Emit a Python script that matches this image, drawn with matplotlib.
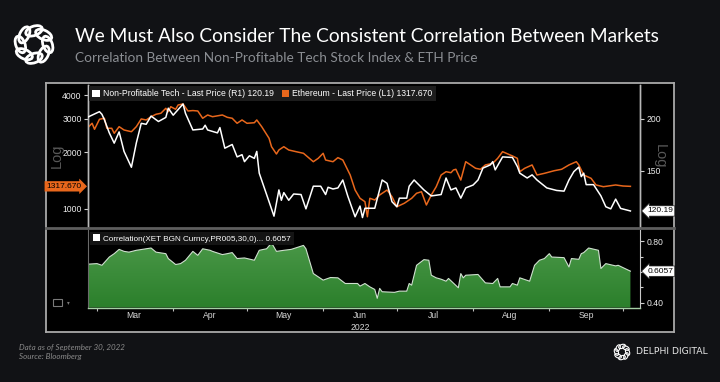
import numpy as np
import pandas as pd
import matplotlib
matplotlib.use("Agg")
import matplotlib.pyplot as plt
import matplotlib.dates as mdates
import matplotlib.ticker as mticker
import matplotlib.transforms as mtrans
from matplotlib.patches import Rectangle, Ellipse, Patch
from matplotlib.lines import Line2D
from matplotlib.colors import LinearSegmentedColormap

plt.rcParams['font.family'] = ['Liberation Sans', 'DejaVu Sans']

# ---------------- data ----------------
title = "We Must Also Consider The Consistent Correlation Between Markets"
subtitle = "Correlation Between Non-Profitable Tech Stock Index & ETH Price"
footer1 = "Data as of September 30, 2022"
footer2 = "Source: Bloomberg"
brand = "DELPHI DIGITAL"

tech_label = "Non-Profitable Tech - Last Price (R1) 120.19"
eth_label = "Ethereum - Last Price (L1) 1317.670"
corr_label = "Correlation(XET BGN Curncy,PR005,30,0)... 0.6057"

tech_dates = ["02-25","03-02","03-03","03-04","03-06","03-08","03-10","03-12","03-15","03-17",
              "03-19","03-21","03-23","03-26","03-29","03-30","04-01","04-05","04-06","04-09",
              "04-13","04-14","04-15","04-19","04-20","04-22","04-25","04-27","04-29","04-30",
              "05-02","05-04","05-05","05-06","05-10","05-12","05-14","05-15","05-16","05-18",
              "05-20","05-23","05-25","05-28","05-31","06-02","06-03","06-05","06-07","06-09",
              "06-11","06-14","06-16","06-17","06-18","06-22","06-25","06-27","06-29","07-01",
              "07-02","07-05","07-06","07-08","07-12","07-15","07-19","07-21","07-23","07-25",
              "07-27","07-29","08-01","08-03","08-05","08-08","08-09","08-10","08-13","08-17",
              "08-19","08-20","08-23","08-25","08-27","08-31","09-04","09-07","09-09","09-11",
              "09-13","09-14","09-15","09-16","09-19","09-22","09-24","09-26","09-28","09-30",
              "10-04"]
tech_vals = [201.5,208,205,199,185,174.8,186,167,153,175,
             195,194,203,197,201.5,212,204,217,206,188,
             189,193,188,185,190.5,170,173.5,162,164,157.8,
             163,160.7,167,148.1,126.5,116.8,135,127.5,133,127.5,
             132,131.6,121.6,137.8,137.8,131.6,137,135.7,136.5,142.6,
             130.6,116.4,123.5,115.9,122,122,142.6,140,126.5,123,
             129,129,137.8,142.6,135,130.6,131.6,144.2,135,136.5,
             129,136.5,138.7,142.6,152.3,155,157.8,150.8,162,161.5,
             153.6,148.1,144.2,146.7,142.6,136.5,134.6,134.1,142.6,149.4,
             153.1,145.3,148.1,139,139,130.6,123,121.6,128.3,121.9,
             120.19]

eth_dates = ["02-25","02-27","02-28","03-02","03-04","03-05","03-07","03-08","03-10","03-12",
             "03-15","03-17","03-19","03-21","03-23","03-25","03-27","03-29","03-30","03-31",
             "04-02","04-03","04-05","04-07","04-09","04-11","04-13","04-15","04-17","04-21",
             "04-23","04-25","04-27","04-29","05-01","05-04","05-05","05-07","05-10","05-11",
             "05-13","05-14","05-16","05-18","05-21","05-24","05-28","05-30","06-01","06-02",
             "06-05","06-07","06-09","06-12","06-14","06-16","06-18","06-19","06-20","06-22",
             "06-24","06-27","06-29","07-01","07-04","07-07","07-09","07-11","07-13","07-15",
             "07-17","07-19","07-21","07-23","07-24","07-25","07-27","07-29","07-31","08-02",
             "08-04","08-06","08-09","08-11","08-13","08-17","08-19","08-20","08-22","08-25",
             "08-27","08-30","09-03","09-06","09-09","09-12","09-13","09-15","09-18","09-20",
             "09-23","09-25","09-28","10-01","10-04"]
eth_vals = [2673,2841,2641,2983,3020,2673,2673,2515,2726,2618,
            2564,2726,2995,2958,3078,3170,3210,3410,3272,3477,
            3370,3550,3595,3300,3317,3300,3020,3143,3078,3143,
            3055,3020,2841,2958,2841,2860,2958,2726,2366,2136,
            1954,2052,2136,2052,2010,1971,1779,1854,1971,1816,
            1779,1869,1816,1513,1260,1139,1093,910,1139,1116,
            1186,1260,1162,1028,1072,1139,1211,1234,1050,1186,
            1312,1513,1575,1556,1608,1622,1423,1779,1710,1642,
            1622,1710,1745,1854,2010,1908,1854,1575,1642,1710,
            1513,1544,1594,1622,1710,1779,1710,1513,1453,1340,
            1312,1323,1340,1323,1317.67]

corr_dates = ["02-25","03-01","03-03","03-06","03-08","03-10","03-12","03-14","03-17","03-23",
              "03-25","03-29","03-30","04-02","04-04","04-06","04-09","04-11","04-13","04-16",
              "04-17","04-21","04-23","04-25","04-27","04-30","05-04","05-06","05-09","05-11",
              "05-12","05-13","05-16","05-19","05-24","05-25","05-28","06-01","06-04","06-07",
              "06-10","06-15","06-16","06-18","06-20","06-22","06-23","06-24","06-25","06-30",
              "07-02","07-05","07-06","07-07","07-09","07-12","07-14","07-15","07-17","07-19",
              "07-21","07-22","07-26","07-27","07-28","07-29","08-03","08-06","08-09","08-11",
              "08-12","08-16","08-17","08-19","08-20","08-24","08-26","08-28","08-30","09-01",
              "09-02","09-07","09-09","09-10","09-13","09-14","09-15","09-17","09-21","09-22",
              "09-24","09-28","09-29","10-04"]
corr_vals = [0.651,0.655,0.644,0.698,0.72,0.748,0.735,0.73,0.742,0.757,
             0.73,0.72,0.688,0.649,0.655,0.677,0.735,0.709,0.752,0.742,
             0.735,0.714,0.72,0.727,0.688,0.692,0.677,0.742,0.752,0.79,
             0.763,0.735,0.742,0.748,0.774,0.752,0.59,0.547,0.564,0.562,
             0.525,0.525,0.508,0.525,0.503,0.486,0.428,0.493,0.471,0.467,
             0.475,0.475,0.525,0.514,0.644,0.681,0.677,0.579,0.562,0.553,
             0.54,0.558,0.497,0.59,0.562,0.579,0.584,0.529,0.525,0.558,
             0.503,0.503,0.525,0.514,0.562,0.54,0.644,0.677,0.688,0.72,
             0.698,0.694,0.633,0.688,0.683,0.72,0.727,0.757,0.742,0.623,
             0.655,0.64,0.644,0.6057]

eth_ticks = [1000, 2000, 3000, 4000]
tech_ticks = [150, 200]
corr_ticks = [0.40, 0.80]
eth_last, tech_last, corr_last = 1317.670, 120.19, 0.6057

def to_dt(lst):
    return pd.to_datetime(["2022-" + s for s in lst])

tech_d, eth_d, corr_d = to_dt(tech_dates), to_dt(eth_dates), to_dt(corr_dates)

# ---------------- styling ----------------
W, H = 720, 382
BG = '#111215'
ORANGE = '#e8671c'
fig = plt.figure(figsize=(W / 100, H / 100), dpi=100, facecolor=BG)

def fx(px):
    return px / W

def fy(py):
    return 1 - py / H

# chart panel
panel = fig.add_axes([fx(46), fy(332), fx(674 - 46), (332 - 83) / H])
panel.set_facecolor('black')
panel.set_xticks([]); panel.set_yticks([])
for s in panel.spines.values():
    s.set_color('#a9a9a9'); s.set_linewidth(1.3)

x0 = mdates.date2num(pd.Timestamp('2022-03-01')) - 3.66
x1 = mdates.date2num(pd.Timestamp('2022-03-01')) + 220.9

# ---- upper axes
ax = fig.add_axes([fx(88), fy(227), fx(640 - 88), (227 - 85) / H])
ax.set_facecolor('black')
ax.set_yscale('log')
ax.set_ylim(803, 4529)
ax.set_xlim(x0, x1)
ax.yaxis.set_major_locator(mticker.FixedLocator(eth_ticks))
ax.yaxis.set_major_formatter(mticker.FixedFormatter([str(t) for t in eth_ticks]))
ax.yaxis.set_minor_locator(mticker.NullLocator())
ax.tick_params(axis='y', direction='out', length=3, width=0.8, color='#d0d0d0',
               labelcolor='#ececec', labelsize=6.2, pad=1.5)
ax.tick_params(axis='x', bottom=False, labelbottom=False)
ax.plot(eth_d, eth_vals, color=ORANGE, lw=1.1, zorder=3)

ax2 = ax.twinx()
ax2.set_yscale('log')
ax2.set_ylim(110, 241)
ax2.set_xlim(x0, x1)
ax2.yaxis.set_major_locator(mticker.FixedLocator(tech_ticks))
ax2.yaxis.set_major_formatter(mticker.FixedFormatter([str(t) for t in tech_ticks]))
ax2.yaxis.set_minor_locator(mticker.NullLocator())
ax2.tick_params(axis='y', direction='out', length=3, width=0.8, color='#d0d0d0',
                labelcolor='#ececec', labelsize=6.2, pad=1.5)
ax2.plot(tech_d, tech_vals, color='white', lw=1.1, zorder=3)

for a in (ax, ax2):
    a.spines['top'].set_visible(False)
    a.spines['bottom'].set_visible(False)
    a.spines['left'].set_color('#b8b8b8')
    a.spines['right'].set_color('#b8b8b8')
    a.spines['left'].set_linewidth(1.0)
    a.spines['right'].set_linewidth(1.0)

leg = ax2.legend(handles=[Patch(facecolor='white', edgecolor='none'),
                          Patch(facecolor=ORANGE, edgecolor='none')],
                 labels=[tech_label, eth_label], ncol=2, loc='upper left',
                 bbox_to_anchor=(0.0, 1.0), borderaxespad=0.15, frameon=True,
                 facecolor='#1c1c1c', edgecolor='none', framealpha=1, fancybox=False,
                 fontsize=6.2, labelcolor='white', handlelength=0.85, handleheight=0.85,
                 handletextpad=0.4, columnspacing=0.9, borderpad=0.35)
leg.set_zorder(20)

# value flags
ax.text(-0.012, eth_last, f"{eth_last:.3f}", transform=ax.get_yaxis_transform(),
        ha='right', va='center', fontsize=6, color='black', clip_on=False, zorder=30,
        bbox=dict(boxstyle='rarrow,pad=0.2', fc=ORANGE, ec='none'))
ax2.text(1.013, tech_last, f"{tech_last:.2f}", transform=ax2.get_yaxis_transform(),
         ha='left', va='center', fontsize=6, color='black', clip_on=False, zorder=30,
         bbox=dict(boxstyle='larrow,pad=0.2', fc='white', ec='#222222', lw=0.5))

# separator line
fig.add_artist(Line2D([fx(46), fx(674)], [fy(228), fy(228)], color='#5e5e5e', lw=2.0))

# ---- lower axes
ax3 = fig.add_axes([fx(88), fy(307.5), fx(640 - 88), (307.5 - 229.5) / H])
ax3.set_facecolor('black')
ymin3, ymax3 = 0.368, 0.878
ax3.set_ylim(ymin3, ymax3)
poly = ax3.fill_between(corr_d, corr_vals, ymin3, facecolor='none', edgecolor='none')
cmap = LinearSegmentedColormap.from_list('g', ['#2b7f2b', '#4a9848'])
grad = np.linspace(0, 1, 256).reshape(-1, 1)
im = ax3.imshow(grad, aspect='auto', cmap=cmap, origin='lower',
                extent=[x0, x1, ymin3, 0.80], zorder=1)
im.set_clip_path(poly.get_paths()[0], transform=ax3.transData)
ax3.plot(corr_d, corr_vals, color='#cfe0cf', lw=0.8, zorder=2)
ax3.set_xlim(x0, x1)
ax3.set_ylim(ymin3, ymax3)

ax3.yaxis.tick_right()
ax3.yaxis.set_major_locator(mticker.FixedLocator(corr_ticks))
ax3.yaxis.set_major_formatter(mticker.FixedFormatter([f"{t:.2f}" for t in corr_ticks]))
ax3.yaxis.set_minor_locator(mticker.FixedLocator([0.5, 0.6, 0.7]))
ax3.tick_params(axis='y', which='major', direction='out', length=3, width=0.8,
                color='#d0d0d0', labelcolor='#ececec', labelsize=6.2, pad=1.5)
ax3.tick_params(axis='y', which='minor', direction='out', length=2, width=0.8, color='#d0d0d0')

ax3.xaxis.set_major_locator(mdates.MonthLocator())
ax3.xaxis.set_major_formatter(mticker.NullFormatter())
ax3.xaxis.set_minor_locator(mdates.MonthLocator(bymonthday=16))
ax3.xaxis.set_minor_formatter(mdates.DateFormatter('%b'))
ax3.tick_params(axis='x', which='major', direction='out', length=2.5, width=0.8, color='#bdbdbd')
ax3.tick_params(axis='x', which='minor', length=0, labelsize=6.2, labelcolor='#d8d8d8', pad=2.5)
ax3.text(mdates.date2num(pd.Timestamp('2022-06-16')), -0.2, '2022',
         transform=mtrans.blended_transform_factory(ax3.transData, ax3.transAxes),
         ha='center', va='top', fontsize=6.2, color='#d8d8d8')

ax3.spines['top'].set_visible(False)
ax3.spines['left'].set_color('#6a6a6a')
ax3.spines['bottom'].set_color('#a6cfa6')
ax3.spines['right'].set_color('#c8c8c8')
ax3.spines['bottom'].set_linewidth(1.0)

leg3 = ax3.legend(handles=[Patch(facecolor='white', edgecolor='none')], labels=[corr_label],
                  loc='upper left', bbox_to_anchor=(0.0, 1.0), borderaxespad=0.25,
                  frameon=True, facecolor='#141414', edgecolor='none', framealpha=1,
                  fancybox=False, fontsize=5.9, labelcolor='white', handlelength=0.85,
                  handleheight=0.85, handletextpad=0.4, borderpad=0.35)
leg3.set_zorder(20)

ax3.text(1.013, corr_last, f"{corr_last:.4f}", transform=ax3.get_yaxis_transform(),
         ha='left', va='center', fontsize=6, color='black', clip_on=False, zorder=30,
         bbox=dict(boxstyle='larrow,pad=0.2', fc='white', ec='#222222', lw=0.5))

# small icon at lower-left of panel
fig.add_artist(Rectangle((fx(53), fy(306)), 9 / W, 7 / H, transform=fig.transFigure,
                         fill=False, ec='#7a7a7a', lw=0.8))
fig.text(fx(67), fy(302.5), '\u25be', fontsize=4, color='#7a7a7a', ha='left', va='center')

# "Log" labels
fig.text(fx(57), fy(156), 'Log', rotation=90, fontsize=10.5, color='#585858',
         ha='center', va='center')
fig.text(fx(660), fy(156), 'Log', rotation=270, fontsize=10.5, color='#585858',
         ha='center', va='center')

# ---------------- header / footer ----------------
t_title = fig.text(fx(75), fy(36), title, fontsize=13, color='white', va='center',
                   ha='left', family=['Lato', 'DejaVu Sans'])
t_sub = fig.text(fx(75), fy(58), subtitle, fontsize=9, color='#8b8e93', va='center',
                 ha='left', family=['Lato', 'DejaVu Sans'])
t_f1 = fig.text(fx(19), fy(347), footer1, fontsize=5.5, color='#8a8a8a', style='italic',
                va='center', ha='left', family=['Lato', 'DejaVu Sans'])
t_f2 = fig.text(fx(19), fy(357), footer2, fontsize=5.5, color='#8a8a8a', style='italic',
                va='center', ha='left', family=['Lato', 'DejaVu Sans'])
t_br = fig.text(fx(636), fy(352), brand, fontsize=5.5, color='#e6e6e6', va='center',
                ha='left', family=['DejaVu Sans'])

renderer = fig.canvas.get_renderer()
for t, target in ((t_title, 585), (t_sub, 401), (t_f1, 105), (t_br, 72)):
    w = t.get_window_extent(renderer).width
    t.set_fontsize(t.get_fontsize() * target / w)
t_f2.set_fontsize(t_f1.get_fontsize())


def draw_logo(cx, cy, size, lw):
    la = fig.add_axes([fx(cx - size / 2), fy(cy + size / 2), size / W, size / H])
    la.set_xlim(-1, 1); la.set_ylim(-1, 1)
    la.set_aspect('equal')
    la.axis('off')
    n = 8
    for i in range(n):
        a = 2 * np.pi * i / n
        la.add_patch(Ellipse((0.62 * np.cos(a), 0.62 * np.sin(a)), width=0.78, height=0.42,
                             angle=np.degrees(a) + 90 + 20, fill=False, ec='white', lw=lw))


draw_logo(34, 44.5, 44, 2.0)
draw_logo(622, 352, 18, 0.8)

fig.savefig('out.png', dpi=100, facecolor=BG)
